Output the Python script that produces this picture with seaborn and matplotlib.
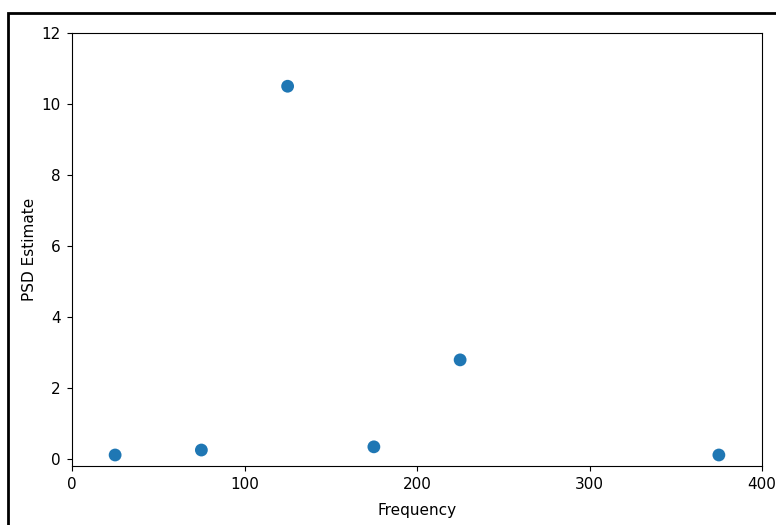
import matplotlib
matplotlib.use("Agg")
import matplotlib.pyplot as plt
import matplotlib.patches as patches
import pandas as pd
import seaborn as sns

# PSD estimates
frequency = [25, 75, 125, 175, 225, 375]
psd_estimate = [0.11, 0.25, 10.5, 0.34, 2.79, 0.11]

df = pd.DataFrame({"Frequency": frequency, "PSD Estimate": psd_estimate})

fig = plt.figure(figsize=(7.76, 5.25), dpi=100)
ax = fig.add_axes([72 / 776, 1 - 466 / 525, (762 - 72) / 776, (466 - 33) / 525])

sns.scatterplot(data=df, x="Frequency", y="PSD Estimate", ax=ax,
                color="#1f77b4", s=85, edgecolor="none")

ax.set_xlim(0, 400)
ax.set_ylim(-0.2, 12)
ax.set_xticks([0, 100, 200, 300, 400])
ax.set_yticks([0, 2, 4, 6, 8, 10, 12])
ax.tick_params(labelsize=11, pad=4.5)
ax.set_xlabel("Frequency", fontsize=11, labelpad=8)
ax.set_ylabel("PSD Estimate", fontsize=11, labelpad=3.5)

# the reference is a cropped screenshot with a black frame on the left/top
frame = patches.Rectangle((8 / 776, -0.2), 2, 1 - 13 / 525 + 0.2,
                          transform=fig.transFigure, fill=False,
                          lw=2, edgecolor="black", clip_on=False)
fig.patches.append(frame)

fig.savefig("out.png", dpi=100)
